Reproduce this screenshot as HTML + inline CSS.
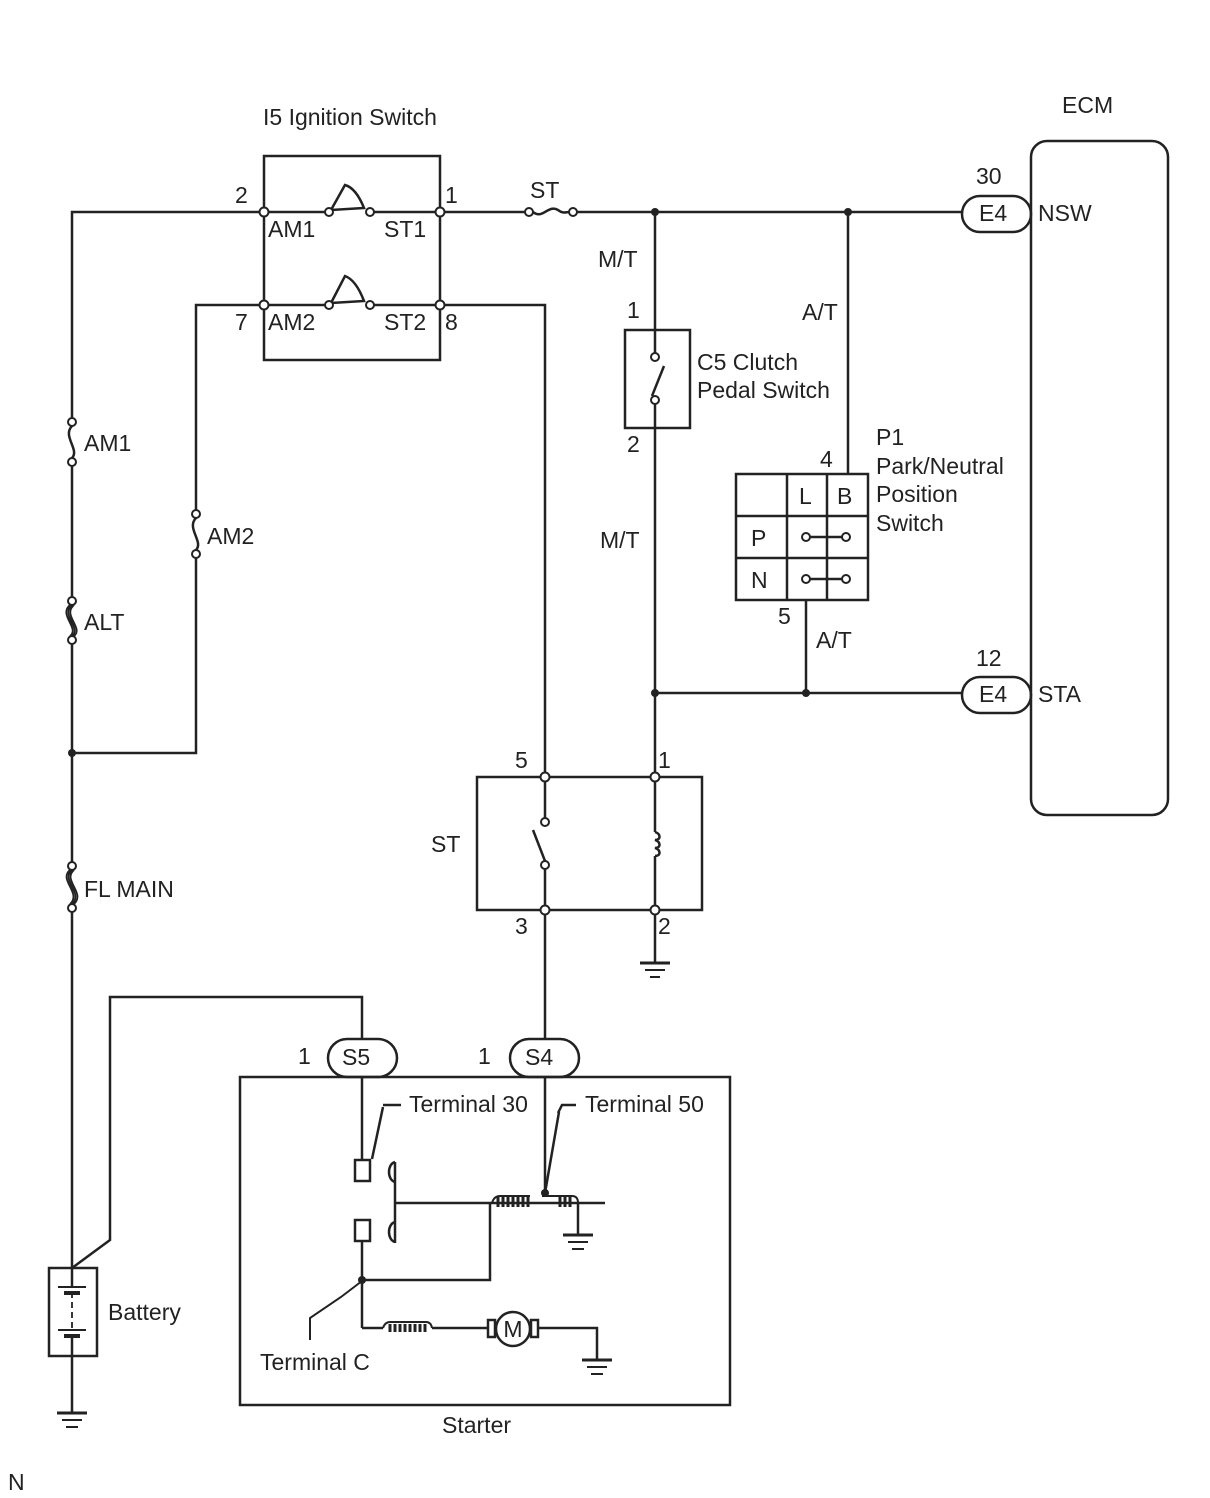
<!DOCTYPE html>
<html><head><meta charset="utf-8"><style>
html,body{margin:0;padding:0;background:#fff;}
svg{display:block;}
text{font-family:"Liberation Sans",Arial,sans-serif;font-size:23px;fill:#222;}
</style></head><body>
<svg width="1210" height="1498" viewBox="0 0 1210 1498" xmlns="http://www.w3.org/2000/svg">
<g stroke="#222" stroke-width="2.5" fill="none">
<polyline points="264,212 72,212 72,418"/>
<line x1="72" y1="466" x2="72" y2="597"/>
<line x1="72" y1="644" x2="72" y2="862"/>
<line x1="72" y1="912" x2="72" y2="1268"/>
<polyline points="72,753 196,753 196,558"/>
<polyline points="196,510 196,305 264,305"/>
<rect x="264" y="156" width="176" height="204"/>
<line x1="264" y1="212" x2="329" y2="212"/>
<line x1="264" y1="305" x2="329" y2="305"/>
<line x1="370" y1="212" x2="440" y2="212"/>
<line x1="370" y1="305" x2="440" y2="305"/>
<path d="M331,210 L345,185 Q356,188 364,208 Z"/>
<path d="M331,303 L345,276 Q356,280 364,301 Z"/>
<line x1="440" y1="212" x2="525" y2="212"/>
<path d="M533,212 C543,220 548,204 558,210 C563,214 566,212 569,212"/>
<line x1="577" y1="212" x2="962" y2="212"/>
<polyline points="440,305 545,305 545,773"/>
<line x1="655" y1="212" x2="655" y2="353"/>
<rect x="625" y="330" width="65" height="98"/>
<line x1="652" y1="396" x2="664" y2="366"/>
<line x1="655" y1="404" x2="655" y2="773"/>
<line x1="848" y1="212" x2="848" y2="474"/>
<line x1="806" y1="600" x2="806" y2="693"/>
<line x1="655" y1="693" x2="962" y2="693"/>
<rect x="736" y="474" width="132" height="126"/>
<line x1="787" y1="474" x2="787" y2="600"/>
<line x1="827" y1="474" x2="827" y2="600"/>
<line x1="736" y1="516" x2="868" y2="516"/>
<line x1="736" y1="558" x2="868" y2="558"/>
<line x1="810" y1="537" x2="842" y2="537"/>
<line x1="810" y1="579" x2="842" y2="579"/>
<rect x="1031" y="141" width="137" height="674" rx="16"/>
<rect x="962" y="196" width="69" height="36" rx="18"/>
<rect x="962" y="677" width="69" height="36" rx="18"/>
<rect x="477" y="777" width="225" height="133"/>
<line x1="545" y1="781" x2="545" y2="818"/>
<line x1="533" y1="830" x2="545" y2="861"/>
<line x1="545" y1="869" x2="545" y2="906"/>
<line x1="655" y1="781" x2="655" y2="832"/>
<path d="M655,832 C661,834 661,840 655,840 C661,842 661,848 655,848 C661,850 661,856 655,856"/>
<line x1="655" y1="856" x2="655" y2="906"/>
<line x1="655" y1="914" x2="655" y2="963"/>
<line x1="545" y1="914" x2="545" y2="1040"/>
<polyline points="72,1268 110,1240 110,997 362,997 362,1039"/>
<rect x="49" y="1268" width="48" height="88"/>
<line x1="72" y1="1268" x2="72" y2="1287"/>
<line x1="72" y1="1292" x2="72" y2="1330" stroke-dasharray="6,4" stroke-width="1.8"/>
<line x1="72" y1="1338" x2="72" y2="1413"/>
<line x1="58" y1="1287" x2="86" y2="1287" stroke-width="2"/>
<line x1="64" y1="1293" x2="80" y2="1293" stroke-width="4"/>
<line x1="58" y1="1330" x2="86" y2="1330" stroke-width="2"/>
<line x1="64" y1="1336" x2="80" y2="1336" stroke-width="4"/>
<rect x="240" y="1077" width="490" height="328"/>
<rect x="328" y="1039" width="69" height="38" rx="19"/>
<rect x="510" y="1039" width="69" height="38" rx="19"/>
<line x1="362" y1="1077" x2="362" y2="1160"/>
<rect x="355" y="1160" width="15" height="21"/>
<rect x="355" y="1220" width="15" height="21"/>
<line x1="362" y1="1241" x2="362" y2="1328"/>
<line x1="372" y1="1159" x2="383" y2="1107"/>
<line x1="383" y1="1105" x2="401" y2="1105"/>
<line x1="395" y1="1162" x2="395" y2="1243"/>
<path d="M395,1162 C387,1164 387,1180 395,1182"/>
<path d="M395,1222 C387,1224 387,1240 395,1242"/>
<line x1="395" y1="1203" x2="605" y2="1203"/>
<polyline points="362,1280 490,1280 490,1203"/>
<line x1="545" y1="1077" x2="545" y2="1195"/>
<line x1="545" y1="1193" x2="559" y2="1112"/>
<polyline points="558,1113 562,1105 576,1105"/>
<path d="M492,1203 Q494,1196 500,1196 L530,1196 M542,1196 L572,1196 Q578,1196 578,1203" stroke-width="2"/>
<g stroke-width="3">
<line x1="498" y1="1197" x2="498" y2="1207"/><line x1="503" y1="1197" x2="503" y2="1207"/><line x1="508" y1="1197" x2="508" y2="1207"/><line x1="513" y1="1197" x2="513" y2="1207"/><line x1="518" y1="1197" x2="518" y2="1207"/><line x1="523" y1="1197" x2="523" y2="1207"/><line x1="528" y1="1197" x2="528" y2="1207"/>
<line x1="560" y1="1197" x2="560" y2="1207"/><line x1="565" y1="1197" x2="565" y2="1207"/><line x1="570" y1="1197" x2="570" y2="1207"/>
<line x1="390" y1="1324" x2="390" y2="1332"/><line x1="395" y1="1324" x2="395" y2="1332"/><line x1="400" y1="1324" x2="400" y2="1332"/><line x1="405" y1="1324" x2="405" y2="1332"/><line x1="410" y1="1324" x2="410" y2="1332"/><line x1="415" y1="1324" x2="415" y2="1332"/><line x1="420" y1="1324" x2="420" y2="1332"/><line x1="425" y1="1324" x2="425" y2="1332"/>
</g>
<line x1="578" y1="1203" x2="578" y2="1235"/>
<polyline points="362,1328 383,1328"/>
<path d="M383,1328 Q385,1322 390,1322 L426,1322 Q431,1322 432,1328" stroke-width="2"/>
<line x1="432" y1="1328" x2="488" y2="1328"/>
<rect x="488" y="1320" width="7" height="17"/>
<rect x="531" y="1320" width="7" height="17"/>
<circle cx="513" cy="1329" r="17" fill="#fff"/>
<polyline points="538,1328 597,1328 597,1360"/>
<polyline points="362,1281 341,1297 310,1318 310,1340" stroke-width="2"/>
</g>
<g stroke="#222" stroke-width="2.5" fill="none">
<path d="M72,426 C62,436 80,450 72,458"/>
<path d="M196,518 C186,528 204,542 196,550"/>
<path d="M72,605 C60,615 82,628 72,636 M70,605 C58,615 80,628 70,636 M74,605 C62,615 84,628 74,636" stroke-width="1.8"/>
<path d="M72,870 C60,880 84,893 72,904 M70,870 C58,880 82,893 70,904 M74,870 C62,880 86,893 74,904" stroke-width="1.8"/>
</g>
<g stroke="#222" stroke-width="2" fill="#fff">
<circle cx="72" cy="422" r="4"/><circle cx="72" cy="462" r="4"/>
<circle cx="196" cy="514" r="4"/><circle cx="196" cy="554" r="4"/>
<circle cx="72" cy="601" r="4"/><circle cx="72" cy="640" r="4"/>
<circle cx="72" cy="866" r="4"/><circle cx="72" cy="908" r="4"/>
<circle cx="264" cy="212" r="4.5"/><circle cx="440" cy="212" r="4.5"/>
<circle cx="264" cy="305" r="4.5"/><circle cx="440" cy="305" r="4.5"/>
<circle cx="329" cy="212" r="4"/><circle cx="370" cy="212" r="4"/>
<circle cx="329" cy="305" r="4"/><circle cx="370" cy="305" r="4"/>
<circle cx="529" cy="212" r="4"/><circle cx="573" cy="212" r="4"/>
<circle cx="655" cy="357" r="4"/><circle cx="655" cy="400" r="4"/>
<circle cx="806" cy="537" r="4"/><circle cx="846" cy="537" r="4"/>
<circle cx="806" cy="579" r="4"/><circle cx="846" cy="579" r="4"/>
<circle cx="545" cy="777" r="4.5"/><circle cx="655" cy="777" r="4.5"/>
<circle cx="545" cy="910" r="4.5"/><circle cx="655" cy="910" r="4.5"/>
<circle cx="545" cy="822" r="4"/><circle cx="545" cy="865" r="4"/>
</g>
<g fill="#222">
<circle cx="655" cy="212" r="4"/><circle cx="848" cy="212" r="4"/>
<circle cx="655" cy="693" r="4"/><circle cx="806" cy="693" r="4"/>
<circle cx="72" cy="753" r="4"/><circle cx="362" cy="1280" r="4"/><circle cx="545" cy="1193" r="4"/>
</g>
<g stroke="#222" fill="none">
<line x1="640" y1="963" x2="670" y2="963" stroke-width="3"/><line x1="645" y1="970" x2="665" y2="970" stroke-width="2"/><line x1="650" y1="977" x2="660" y2="977" stroke-width="2"/>
<line x1="57" y1="1413" x2="87" y2="1413" stroke-width="3"/><line x1="62" y1="1420" x2="82" y2="1420" stroke-width="2"/><line x1="66" y1="1427" x2="78" y2="1427" stroke-width="2"/>
<line x1="563" y1="1235" x2="593" y2="1235" stroke-width="3"/><line x1="568" y1="1242" x2="588" y2="1242" stroke-width="2"/><line x1="572" y1="1249" x2="584" y2="1249" stroke-width="2"/>
<line x1="582" y1="1360" x2="612" y2="1360" stroke-width="3"/><line x1="587" y1="1367" x2="607" y2="1367" stroke-width="2"/><line x1="591" y1="1374" x2="603" y2="1374" stroke-width="2"/>
</g>
<text x="263" y="125">I5 Ignition Switch</text>
<text x="235" y="203">2</text><text x="445" y="203">1</text>
<text x="268" y="237">AM1</text><text x="384" y="237">ST1</text>
<text x="235" y="330">7</text><text x="445" y="330">8</text>
<text x="268" y="330">AM2</text><text x="384" y="330">ST2</text>
<text x="530" y="198">ST</text>
<text x="1062" y="113">ECM</text>
<text x="976" y="184">30</text>
<text x="979" y="221">E4</text><text x="1038" y="221">NSW</text>
<text x="976" y="666">12</text>
<text x="979" y="702">E4</text><text x="1038" y="702">STA</text>
<text x="598" y="267">M/T</text>
<text x="627" y="318">1</text><text x="627" y="452">2</text>
<text x="697" y="370">C5 Clutch</text><text x="697" y="398">Pedal Switch</text>
<text x="802" y="320">A/T</text>
<text x="876" y="445">P1</text><text x="876" y="474">Park/Neutral</text><text x="876" y="502">Position</text><text x="876" y="531">Switch</text>
<text x="820" y="467">4</text><text x="778" y="624">5</text>
<text x="816" y="648">A/T</text>
<text x="600" y="548">M/T</text>
<text x="799" y="504" font-size="24">L</text><text x="837" y="504" font-size="24">B</text>
<text x="751" y="546" font-size="24">P</text><text x="751" y="588" font-size="24">N</text>
<text x="515" y="768">5</text><text x="658" y="768">1</text>
<text x="515" y="934">3</text><text x="658" y="934">2</text>
<text x="431" y="852">ST</text>
<text x="84" y="451">AM1</text><text x="207" y="544">AM2</text>
<text x="84" y="630">ALT</text><text x="84" y="897">FL MAIN</text>
<text x="298" y="1064">1</text><text x="478" y="1064">1</text>
<text x="342" y="1065">S5</text><text x="525" y="1065">S4</text>
<text x="409" y="1112">Terminal 30</text><text x="585" y="1112">Terminal 50</text>
<text x="108" y="1320">Battery</text>
<text x="260" y="1370">Terminal C</text>
<text x="513" y="1337" font-size="21" text-anchor="middle">M</text>
<text x="442" y="1433">Starter</text>
<text x="8" y="1490" font-size="14">N</text>
</svg>
</body></html>
